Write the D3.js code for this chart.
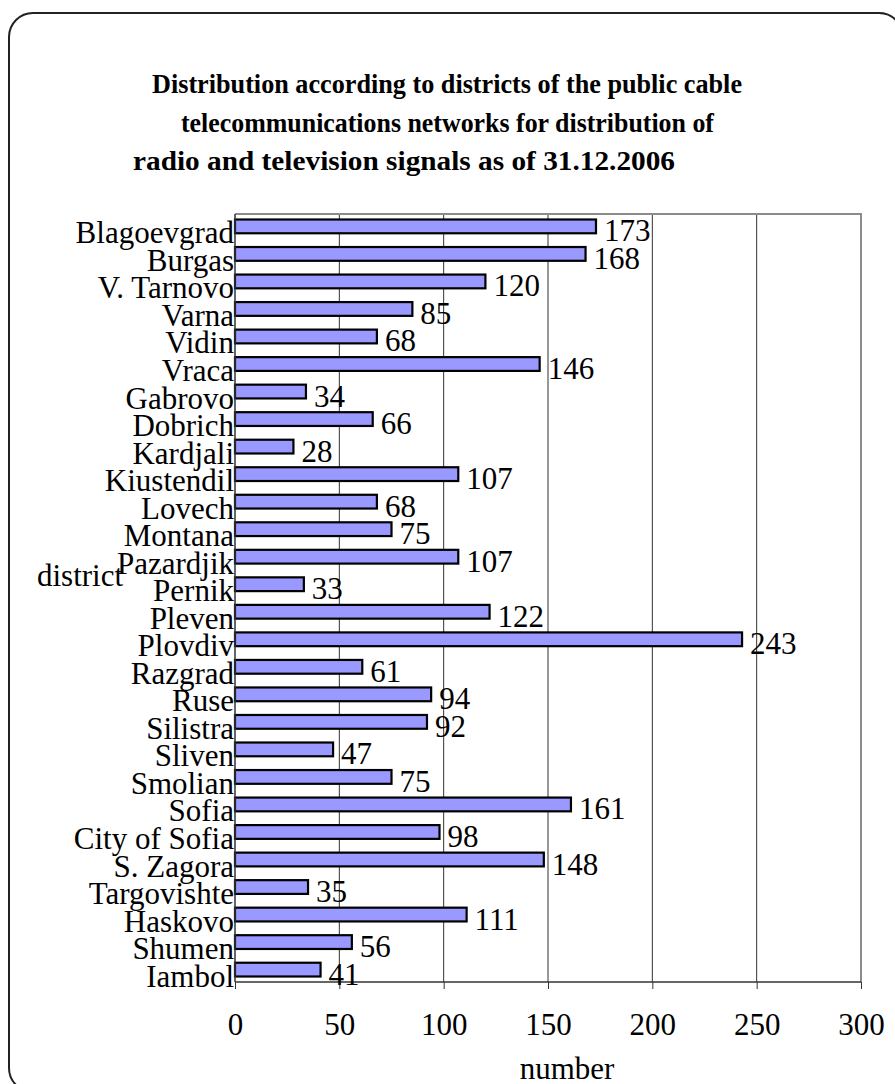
<!DOCTYPE html>
<html>
<head>
<meta charset="utf-8">
<script src="https://cdn.jsdelivr.net/npm/d3@7"></script>
<style>
  html, body { margin: 0; padding: 0; background: #fff; }
  svg { display: block; }
  text { font-family: "Liberation Serif", "Times New Roman", serif; fill: #000; }
</style>
</head>
<body>
<div id="chart"></div>
<script>
let districts = ["Blagoevgrad", "Burgas", "V. Tarnovo", "Varna", "Vidin", "Vraca", "Gabrovo",
  "Dobrich", "Kardjali", "Kiustendil", "Lovech", "Montana", "Pazardjik", "Pernik", "Pleven",
  "Plovdiv", "Razgrad", "Ruse", "Silistra", "Sliven", "Smolian", "Sofia", "City of Sofia",
  "S. Zagora", "Targovishte", "Haskovo", "Shumen", "Iambol"];

let networks = [173, 168, 120, 85, 68, 146, 34, 66, 28, 107, 68, 75, 107, 33, 122,
  243, 61, 94, 92, 47, 75, 161, 98, 148, 35, 111, 56, 41];

let xTicks = [0, 50, 100, 150, 200, 250, 300];

let titleLines = [
  "Distribution according to districts of the public cable",
  "telecommunications networks for distribution of",
  "radio and television signals as of 31.12.2006"
];

function renderChart() {
  let width = 895,
      height = 1084;

  let svg = d3.select("#chart")
    .append("svg")
    .attr("width", width)
    .attr("height", height);

  // rounded frame round the whole chart
  svg.append("rect")
    .attr("x", 9).attr("y", 13)
    .attr("width", 894).attr("height", 1079)
    .attr("rx", 24).attr("ry", 24)
    .attr("fill", "none")
    .attr("stroke", "#222")
    .attr("stroke-width", 2);

  // title, three lines as in the original
  let titlePos = [[152, 93, 590], [181, 132, 533], [133, 170, 542]];
  svg.append("g")
    .selectAll("text")
    .data(titleLines)
    .enter()
    .append("text")
      .attr("x", (d, i) => titlePos[i][0])
      .attr("y", (d, i) => titlePos[i][1])
      .attr("textLength", (d, i) => titlePos[i][2])
      .attr("lengthAdjust", "spacingAndGlyphs")
      .style("font-family", "'Liberation Serif', 'DejaVu Serif', serif")
      .style("font-size", "28px")
      .style("font-weight", "bold")
      .text(d => d);

  let left = 235, right = 861, top = 214, bottom = 982;

  let x = d3.scaleLinear()
    .domain([0, 300])
    .range([left, right]);

  let y = d3.scaleBand()
    .domain(districts)
    .range([top, bottom])
    .paddingInner(0.5)
    .paddingOuter(0.2);

  let plot = svg.append("g");

  // gridlines
  plot.selectAll("line.grid")
    .data(xTicks.slice(1, -1))
    .enter()
    .append("line")
      .attr("class", "grid")
      .attr("x1", d => x(d)).attr("x2", d => x(d))
      .attr("y1", top).attr("y2", bottom)
      .attr("stroke", "#333")
      .attr("stroke-width", 1);

  // grey plot border (top and right)
  plot.append("path")
    .attr("d", `M${left},${top}H${right}V${bottom}`)
    .attr("fill", "none")
    .attr("stroke", "#8c8c8c")
    .attr("stroke-width", 2);

  // bars
  plot.selectAll("rect.bar")
    .data(districts)
    .enter()
    .append("rect")
      .attr("class", "bar")
      .attr("x", x(0))
      .attr("y", d => y(d))
      .attr("width", (d, i) => x(networks[i]) - x(0))
      .attr("height", y.bandwidth())
      .attr("fill", "#9999ff")
      .attr("stroke", "#000")
      .attr("stroke-width", 2.2);

  // left axis line
  plot.append("line")
    .attr("x1", left).attr("x2", left)
    .attr("y1", top).attr("y2", bottom)
    .attr("stroke", "#333")
    .attr("stroke-width", 1.5);

  // bottom axis
  let xAxis = d3.axisBottom(x)
    .tickValues(xTicks)
    .tickSize(7)
    .tickPadding(24);

  let axisG = svg.append("g")
    .attr("transform", `translate(0,${bottom})`)
    .call(xAxis);
  axisG.attr("font-family", null);
  axisG.select(".domain")
    .attr("d", `M${left},0H${right}`)
    .attr("stroke", "#333")
    .attr("stroke-width", 1.5);
  axisG.selectAll(".tick line").attr("stroke", "#333");
  axisG.selectAll(".tick text")
    .style("font-family", "'Liberation Serif', serif")
    .style("font-size", "31px")
    .attr("fill", "#000");

  // category labels
  svg.append("g")
    .selectAll("text")
    .data(districts)
    .enter()
    .append("text")
      .attr("x", 234)
      .attr("y", d => y(d) + y.bandwidth() / 2 + 17)
      .attr("text-anchor", "end")
      .style("font-size", "31px")
      .text(d => d);

  // value labels
  svg.append("g")
    .selectAll("text")
    .data(districts)
    .enter()
    .append("text")
      .attr("x", (d, i) => x(networks[i]) + 8)
      .attr("y", d => y(d) + y.bandwidth() / 2 + 15)
      .style("font-size", "31px")
      .text((d, i) => networks[i]);

  // axis titles
  svg.append("text")
    .attr("x", 37).attr("y", 586)
    .style("font-size", "31px")
    .text("district");

  svg.append("text")
    .attr("x", 567).attr("y", 1079)
    .attr("text-anchor", "middle")
    .style("font-size", "31px")
    .text("number");
}

renderChart();
</script>
</body>
</html>
